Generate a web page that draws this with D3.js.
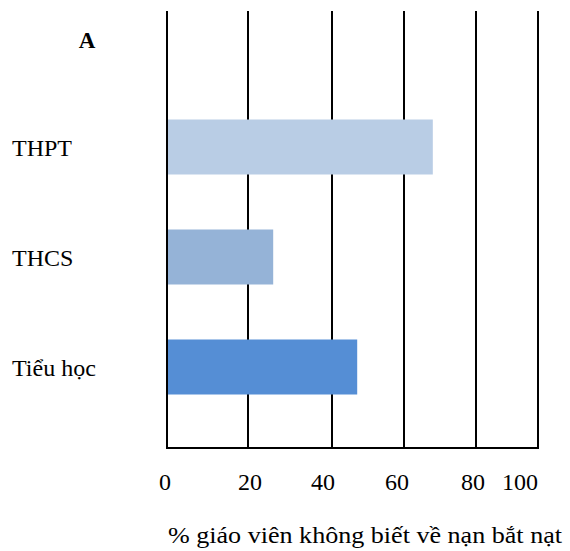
<!DOCTYPE html>
<html>
<head>
<meta charset="utf-8">
<script src="https://cdn.jsdelivr.net/npm/d3@7"></script>
<style>
  body { margin: 0; background: #fff; }
  svg text { font-family: "Liberation Serif", "Times New Roman", serif; fill: #000; }
</style>
</head>
<body>
<script>
const w = 570;
const h = 551;

const categories = ["THPT", "THCS", "Tiểu học"];
const values = [68, 26, 47];
const colors = ["#B9CDE5", "#95B3D7", "#558ED5"];
const ticks = [0, 20, 40, 60, 80, 100];
const panelLabel = "A";
const xTitle = "% giáo viên không biết về nạn bắt nạt";

// the grid in the original is not evenly spaced, so use a piecewise scale
const xScale = d3.scaleLinear()
                 .domain(ticks)
                 .range([167, 248, 332, 404, 476, 538]);

const labelScale = d3.scaleLinear()
                     .domain(ticks)
                     .range([165, 250, 323, 397, 473, 520]);

const yScale = d3.scaleBand()
                 .domain(categories)
                 .range([92, 422])
                 .paddingInner(0.5)
                 .paddingOuter(0.25);

const gridTop = 11, gridBottom = 448;

const svg = d3.select("body")
              .append("svg")
              .attr("width", w)
              .attr("height", h)

svg.selectAll("line.grid")
   .data(ticks)
   .enter()
   .append("line")
   .attr("class", "grid")
   .attr("x1", d => xScale(d))
   .attr("x2", d => xScale(d))
   .attr("y1", gridTop)
   .attr("y2", gridBottom + 1)
   .attr("stroke", "#000")
   .attr("stroke-width", 2)

svg.append("line")
   .attr("x1", xScale(0) - 1)
   .attr("x2", xScale(100) + 1)
   .attr("y1", gridBottom)
   .attr("y2", gridBottom)
   .attr("stroke", "#000")
   .attr("stroke-width", 2)

svg.selectAll("rect.bar")
   .data(values)
   .enter()
   .append("rect")
   .attr("class", "bar")
   .attr("x", xScale(0) + 1)
   .attr("y", (d, i) => yScale(categories[i]))
   .attr("width", d => xScale(d) - xScale(0) - 1)
   .attr("height", yScale.bandwidth())
   .attr("fill", (d, i) => colors[i])

svg.selectAll("text.cat")
   .data(categories)
   .enter()
   .append("text")
   .attr("class", "cat")
   .attr("x", 12)
   .attr("y", d => yScale(d) + yScale.bandwidth() / 2 + 9)
   .attr("font-size", "24px")
   .text(d => d)

svg.selectAll("text.tick")
   .data(ticks)
   .enter()
   .append("text")
   .attr("class", "tick")
   .attr("x", d => labelScale(d))
   .attr("y", 490)
   .attr("text-anchor", "middle")
   .attr("font-size", "24px")
   .text(d => d)

svg.append("text")
   .attr("x", 87)
   .attr("y", 48)
   .attr("text-anchor", "middle")
   .attr("font-size", "23px")
   .attr("font-weight", "bold")
   .text(panelLabel)

svg.append("text")
   .attr("x", 168)
   .attr("y", 543)
   .attr("font-size", "24px")
   .attr("textLength", 394)
   .attr("lengthAdjust", "spacingAndGlyphs")
   .text(xTitle)
</script>
</body>
</html>
